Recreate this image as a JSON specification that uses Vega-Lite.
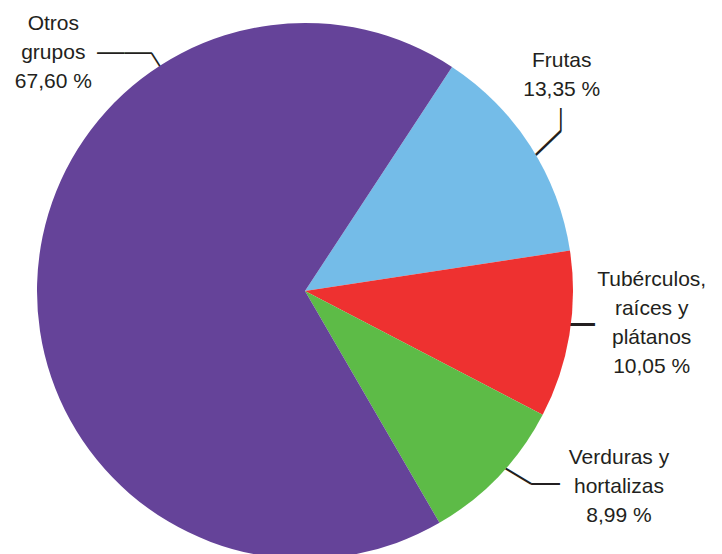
{
  "$schema": "https://vega.github.io/schema/vega-lite/v6.json",
  "width": 610,
  "height": 526,
  "padding": {"left": 0, "top": 28, "right": 112, "bottom": 0},
  "autosize": {"type": "none"},
  "background": "#ffffff",
  "config": {"view": {"stroke": null}},
  "data": {
    "values": [
      {"grupo": "Frutas", "porcentaje": 13.35, "orden": 1, "label": "Frutas\n13,35 %"},
      {"grupo": "Tubérculos, raíces y plátanos", "porcentaje": 10.05, "orden": 2, "label": "Tubérculos,\nraíces y\nplátanos\n10,05 %"},
      {"grupo": "Verduras y hortalizas", "porcentaje": 8.99, "orden": 3, "label": "Verduras y\nhortalizas\n8,99 %"},
      {"grupo": "Otros grupos", "porcentaje": 67.60, "orden": 4, "label": "Otros\ngrupos\n67,60 %"}
    ]
  },
  "encoding": {
    "theta": {"field": "porcentaje", "type": "quantitative", "stack": true, "scale": {"range": [0.58067, 6.86386]}},
    "order": {"field": "orden", "type": "quantitative"}
  },
  "layer": [
    {
      "mark": {"type": "text", "radius": 268, "text": "—", "font": "Liberation Sans", "fontSize": 23, "angle": 90, "align": "center", "baseline": "middle", "dx": -26.7, "dy": -31, "color": "#231F20"},
      "encoding": {"opacity": {"condition": {"test": "datum.grupo === 'Frutas'", "value": 1}, "value": 0}}
    },
    {
      "mark": {"type": "text", "radius": 268, "text": "—", "font": "Liberation Sans", "fontSize": 35, "angle": -43.8, "align": "center", "baseline": "middle", "dx": 15.04, "dy": 7.94, "color": "#231F20"},
      "encoding": {"opacity": {"condition": {"test": "datum.grupo === 'Frutas'", "value": 1}, "value": 0}}
    },
    {
      "mark": {"type": "text", "radius": 268, "text": "—", "font": "Liberation Sans", "fontSize": 44, "align": "center", "baseline": "middle", "dx": 3.6, "dy": -11.9, "color": "#231F20"},
      "encoding": {"opacity": {"condition": {"test": "datum.grupo === 'Tubérculos, raíces y plátanos'", "value": 1}, "value": 0}}
    },
    {
      "mark": {"type": "text", "radius": 268, "text": "—", "font": "Liberation Sans", "fontSize": 29, "align": "center", "baseline": "middle", "dx": 46.7, "dy": 7.1, "color": "#231F20"},
      "encoding": {"opacity": {"condition": {"test": "datum.grupo === 'Verduras y hortalizas'", "value": 1}, "value": 0}}
    },
    {
      "mark": {"type": "text", "radius": 268, "text": "—", "font": "Liberation Sans", "fontSize": 30, "angle": 30.9, "align": "center", "baseline": "middle", "dx": 16.85, "dy": -11.47, "color": "#231F20"},
      "encoding": {"opacity": {"condition": {"test": "datum.grupo === 'Verduras y hortalizas'", "value": 1}, "value": 0}}
    },
    {
      "mark": {"type": "text", "radius": 268, "text": "——", "font": "Liberation Sans", "fontSize": 27.5, "align": "center", "baseline": "middle", "dx": 87.4, "dy": -231.2, "color": "#231F20"},
      "encoding": {"opacity": {"condition": {"test": "datum.grupo === 'Otros grupos'", "value": 1}, "value": 0}}
    },
    {
      "mark": {"type": "text", "radius": 268, "text": "—", "font": "Liberation Sans", "fontSize": 24, "angle": 57.65, "align": "center", "baseline": "middle", "dx": -121.42, "dy": -220.99, "color": "#231F20"},
      "encoding": {"opacity": {"condition": {"test": "datum.grupo === 'Otros grupos'", "value": 1}, "value": 0}}
    },
    {
      "mark": {"type": "arc", "radius": 268},
      "encoding": {
        "color": {
          "field": "grupo", "type": "nominal", "legend": null,
          "scale": {
            "domain": ["Frutas", "Tubérculos, raíces y plátanos", "Verduras y hortalizas", "Otros grupos"],
            "range": ["#74BCE8", "#EE3130", "#5DBB47", "#654399"]
          }
        }
      }
    },
    {
      "mark": {"type": "text", "radius": 268, "lineBreak": "\n", "lineHeight": 29, "font": "Liberation Sans", "fontSize": 21, "align": "center", "baseline": "middle", "dx": 31.2, "dy": -85.0, "color": "#231F20"},
      "encoding": {
        "text": {"field": "label", "type": "nominal"},
        "opacity": {"condition": {"test": "datum.grupo === 'Frutas'", "value": 1}, "value": 0}
      }
    },
    {
      "mark": {"type": "text", "radius": 268, "lineBreak": "\n", "lineHeight": 29, "font": "Liberation Sans", "fontSize": 21, "align": "center", "baseline": "middle", "dx": 82.3, "dy": -55.0, "color": "#231F20"},
      "encoding": {
        "text": {"field": "label", "type": "nominal"},
        "opacity": {"condition": {"test": "datum.grupo === 'Tubérculos, raíces y plátanos'", "value": 1}, "value": 0}
      }
    },
    {
      "mark": {"type": "text", "radius": 268, "lineBreak": "\n", "lineHeight": 29, "font": "Liberation Sans", "fontSize": 21, "align": "center", "baseline": "middle", "dx": 120.2, "dy": -18.3, "color": "#231F20"},
      "encoding": {
        "text": {"field": "label", "type": "nominal"},
        "opacity": {"condition": {"test": "datum.grupo === 'Verduras y hortalizas'", "value": 1}, "value": 0}
      }
    },
    {
      "mark": {"type": "text", "radius": 268, "lineBreak": "\n", "lineHeight": 29, "font": "Liberation Sans", "fontSize": 21, "align": "center", "baseline": "middle", "dx": 16.2, "dy": -259.4, "color": "#231F20"},
      "encoding": {
        "text": {"field": "label", "type": "nominal"},
        "opacity": {"condition": {"test": "datum.grupo === 'Otros grupos'", "value": 1}, "value": 0}
      }
    }
  ]
}
